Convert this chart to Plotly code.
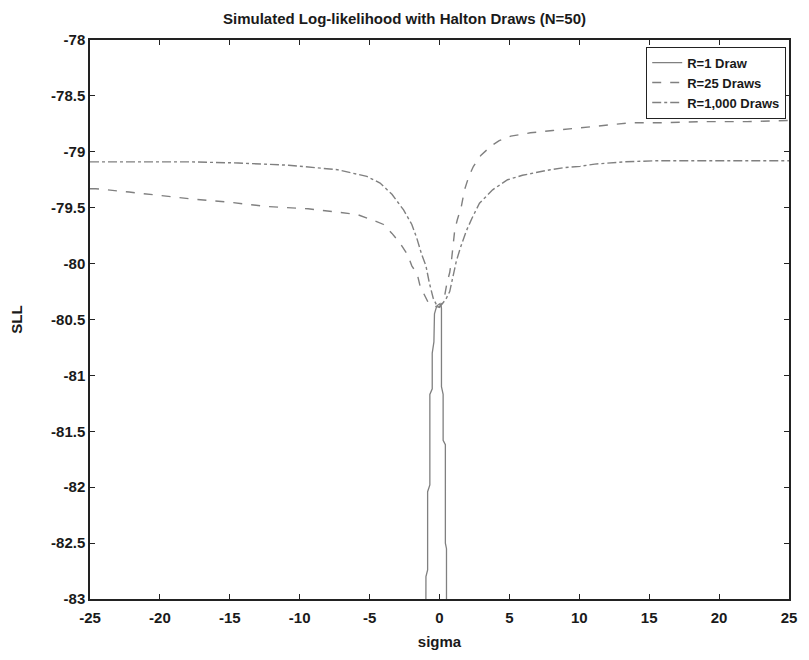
import plotly.graph_objects as go

# R=1 draw (solid)
r1_sigma = [-0.99, -0.97, -0.97, -0.85, -0.85, -0.69, -0.69, -0.52, -0.52, -0.40, -0.36, -0.20, 0.0,
            0.12, 0.14, 0.14, 0.26, 0.26, 0.42, 0.42, 0.50, 0.50, 0.52]
r1_sll = [-84.0, -83.0, -82.80, -82.74, -82.04, -81.98, -81.17, -81.12, -80.80, -80.70, -80.45, -80.38, -80.36,
          -80.38, -80.40, -81.10, -81.17, -81.58, -81.62, -82.50, -82.55, -83.0, -84.0]

# R=25 draws (dashed)
r25_sigma = [-25, -24.6, -22.2, -20.0, -17.9, -15.1, -12.3, -9.4, -8.0, -5.9, -4.8, -4.0, -3.4, -2.81, -2.29,
             -1.98, -1.58, -1.39, -1.04, -0.80, -0.4, 0.0, 0.14, 0.38, 0.54, 0.73, 0.85, 0.97, 1.09, 1.27,
             1.56, 1.79, 2.10, 2.43, 2.97, 3.68, 4.27, 5.1, 6.5, 8.1, 9.7, 11.2, 12.8, 13.7, 16, 19, 22, 25]
r25_sll = [-79.33, -79.33, -79.36, -79.39, -79.42, -79.45, -79.49, -79.51, -79.53, -79.56, -79.61, -79.65,
           -79.73, -79.82, -79.92, -80.02, -80.10, -80.20, -80.29, -80.35, -80.38, -80.39, -80.35, -80.28,
           -80.17, -80.08, -79.98, -79.82, -79.70, -79.61, -79.49, -79.34, -79.22, -79.13, -79.03, -78.95,
           -78.90, -78.86, -78.83, -78.81, -78.79, -78.77, -78.75, -78.74, -78.74, -78.73, -78.73, -78.72]

# R=1,000 draws (dash-dot)
r1000_sigma = [-25, -17.9, -14.4, -10.8, -7.3, -5.2, -4.25, -3.4, -2.57, -1.98, -1.63, -1.27, -0.97, -0.73,
               -0.45, -0.21, 0.0, 0.45, 0.73, 0.97, 1.20, 1.49, 1.91, 2.34, 2.86, 3.8, 4.87, 5.93, 6.99, 7.93,
               9.0, 10.06, 11.1, 13.2, 15.6, 19, 22, 25]
r1000_sll = [-79.09, -79.09, -79.10, -79.12, -79.16, -79.22, -79.28, -79.38, -79.52, -79.65, -79.77, -79.92,
             -80.02, -80.17, -80.31, -80.37, -80.39, -80.32, -80.25, -80.11, -79.98, -79.86, -79.71, -79.59,
             -79.46, -79.34, -79.25, -79.21, -79.18, -79.16, -79.14, -79.13, -79.11, -79.09, -79.08, -79.08,
             -79.08, -79.08]

x_ticks = [-25, -20, -15, -10, -5, 0, 5, 10, 15, 20, 25]
x_labels = ["-25", "-20", "-15", "-10", "-5", "0", "5", "10", "15", "20", "25"]
y_ticks = [-78, -78.5, -79, -79.5, -80, -80.5, -81, -81.5, -82, -82.5, -83]
y_labels = ["-78", "-78.5", "-79", "-79.5", "-80", "-80.5", "-81", "-81.5", "-82", "-82.5", "-83"]

line_col = "#808080"
font_fam = "Liberation Sans, Arial, sans-serif"
txt_col = "#1a1a1a"

def fnt(size):
    return dict(family=font_fam, size=size, color=txt_col, weight="bold")

fig = go.Figure()
fig.add_trace(go.Scatter(x=r1_sigma, y=r1_sll, mode="lines", name="R=1 Draw",
                         line=dict(color=line_col, width=1.3, dash="solid")))
fig.add_trace(go.Scatter(x=r25_sigma, y=r25_sll, mode="lines", name="R=25 Draws",
                         line=dict(color=line_col, width=1.4, dash="dash")))
fig.add_trace(go.Scatter(x=r1000_sigma, y=r1000_sll, mode="lines", name="R=1,000 Draws",
                         line=dict(color=line_col, width=1.4, dash="dashdot")))

axis_common = dict(showline=True, linecolor="#222", linewidth=1.5, mirror="ticks",
                   ticks="inside", ticklen=5, tickcolor="#222", showgrid=False, zeroline=False,
                   tickfont=fnt(15))

fig.update_layout(
    width=809, height=660,
    margin=dict(l=90, r=13, t=40, b=60),
    paper_bgcolor="white", plot_bgcolor="white",
    title=dict(text="Simulated Log-likelihood with Halton Draws (N=50)", x=0.5, xanchor="center",
               y=0.972, yanchor="middle", font=fnt(15)),
    xaxis=dict(range=[-25, 25], tickvals=x_ticks, ticktext=x_labels, ticklabelstandoff=4,
               title=dict(text="sigma", font=fnt(15), standoff=12),
               **axis_common),
    yaxis=dict(range=[-83, -78], tickvals=y_ticks, ticktext=y_labels,
               title=dict(text="SLL", font=fnt(15), standoff=25),
               **axis_common),
    legend=dict(x=0.996, y=0.988, xanchor="right", yanchor="top", bgcolor="white",
                bordercolor="#222", borderwidth=1, tracegroupgap=0, itemwidth=30,
                font=fnt(13)),
    showlegend=True,
)

fig.write_html("out.html")
